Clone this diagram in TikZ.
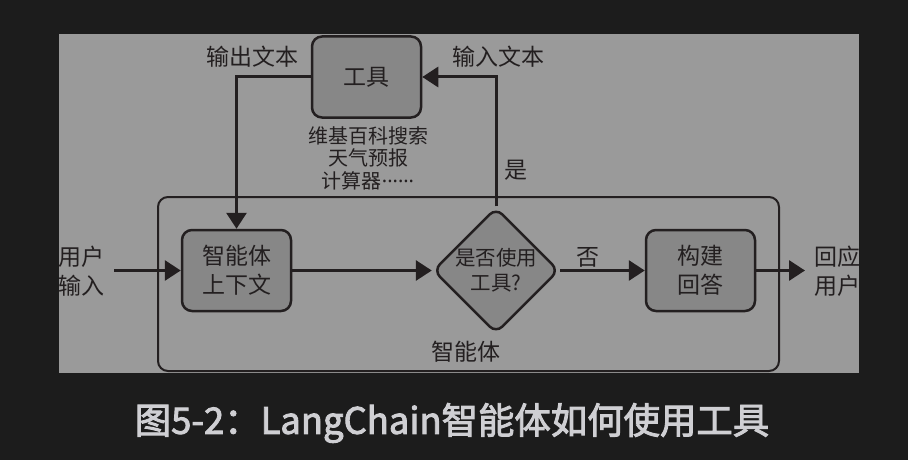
\documentclass[tikz,border=0pt]{standalone}
\usepackage{fontspec}
\setmainfont{Noto Sans CJK SC}
\newfontfamily\capfont{Noto Sans CJK SC}[FakeBold=2.5]
\newfontfamily\dotfont{Noto Sans}
\usetikzlibrary{arrows.meta,shapes.geometric}
\definecolor{bg}{HTML}{1C1C1C}
\definecolor{panel}{HTML}{9A9A9A}
\definecolor{boxfill}{HTML}{878787}
\definecolor{ink}{HTML}{231F20}
\definecolor{captxt}{HTML}{CFCFD3}
\begin{document}
\begin{tikzpicture}[x=1pt,y=-1pt,
  lbl/.style={text=ink,font=\fontsize{23}{29}\selectfont,inner sep=0pt,align=center},
  small/.style={text=ink,font=\fontsize{20}{22.5}\selectfont,inner sep=0pt,align=center},
  procbox/.style={draw=ink,line width=2.5pt,fill=boxfill,rounded corners=10pt,minimum width=109pt,minimum height=81pt,inner sep=0pt,text=ink,font=\fontsize{23}{29}\selectfont,align=center},
  decide/.style={diamond,aspect=1,draw=ink,line width=2.5pt,fill=boxfill,rounded corners=9pt,minimum width=110pt,minimum height=110pt,inner sep=0pt,text=ink,font=\fontsize{20.5}{25}\selectfont,align=center},
  frame/.style={draw=ink,line width=2pt,rounded corners=10pt,minimum width=621pt,minimum height=174pt,inner sep=0pt},
  flow/.style={draw=ink,line width=3pt,-{Triangle[length=16pt,width=20pt]}},
]
\useasboundingbox (0,0) rectangle (908,460);
\fill[bg] (0,0) rectangle (908,460);
\fill[panel] (59,34) rectangle (859,373);

\node[frame] (agent) at (468.5,284) {};
\node[lbl] (agentlbl) at (466,352) {智能体};

\node[procbox] (tool) at (366.5,77) {工具};
\node[small] (toollist) at (368,158) {维基百科搜索\\天气预报\\计算器{\dotfont ······}};
\node[procbox] (ctx) at (236.5,270.5) {智能体\\上下文};
\node[decide] (dec) at (496,270.5) {是否使用\\工具?};
\node[procbox] (build) at (700.5,270.5) {构建\\回答};

\node[lbl] (outlbl) at (252,57) {输出文本};
\node[lbl] (inlbl) at (498,57) {输入文本};
\node[lbl] (yes) at (516,170) {是};
\node[lbl] (no) at (588,257) {否};

\begin{scope}
\clip (59,34) rectangle (859,373);
\node[lbl,anchor=east,align=right] (user) at (105,271) {用户\\输入};
\node[lbl,anchor=west,align=left] (reply) at (814,271) {回应\\用户};
\end{scope}

\coordinate (inpt) at (114,270.5);
\coordinate (outpt) at (805,270.5);

\draw[flow] (inpt) -- (ctx.west);
\draw[flow] (ctx.east) -- (dec.west);
\draw[flow] (dec.east) -- (build.west);
\draw[flow] (build.east) -- (outpt);
\draw[flow] (dec.north) |- (tool.east);
\draw[flow] (tool.west) -| (ctx.north);

\node[text=captxt,font=\capfont\fontsize{36.4}{40}\selectfont,inner sep=0pt] (cap) at (452,423) {图5-2：LangChain智能体如何使用工具};
\end{tikzpicture}
\end{document}
